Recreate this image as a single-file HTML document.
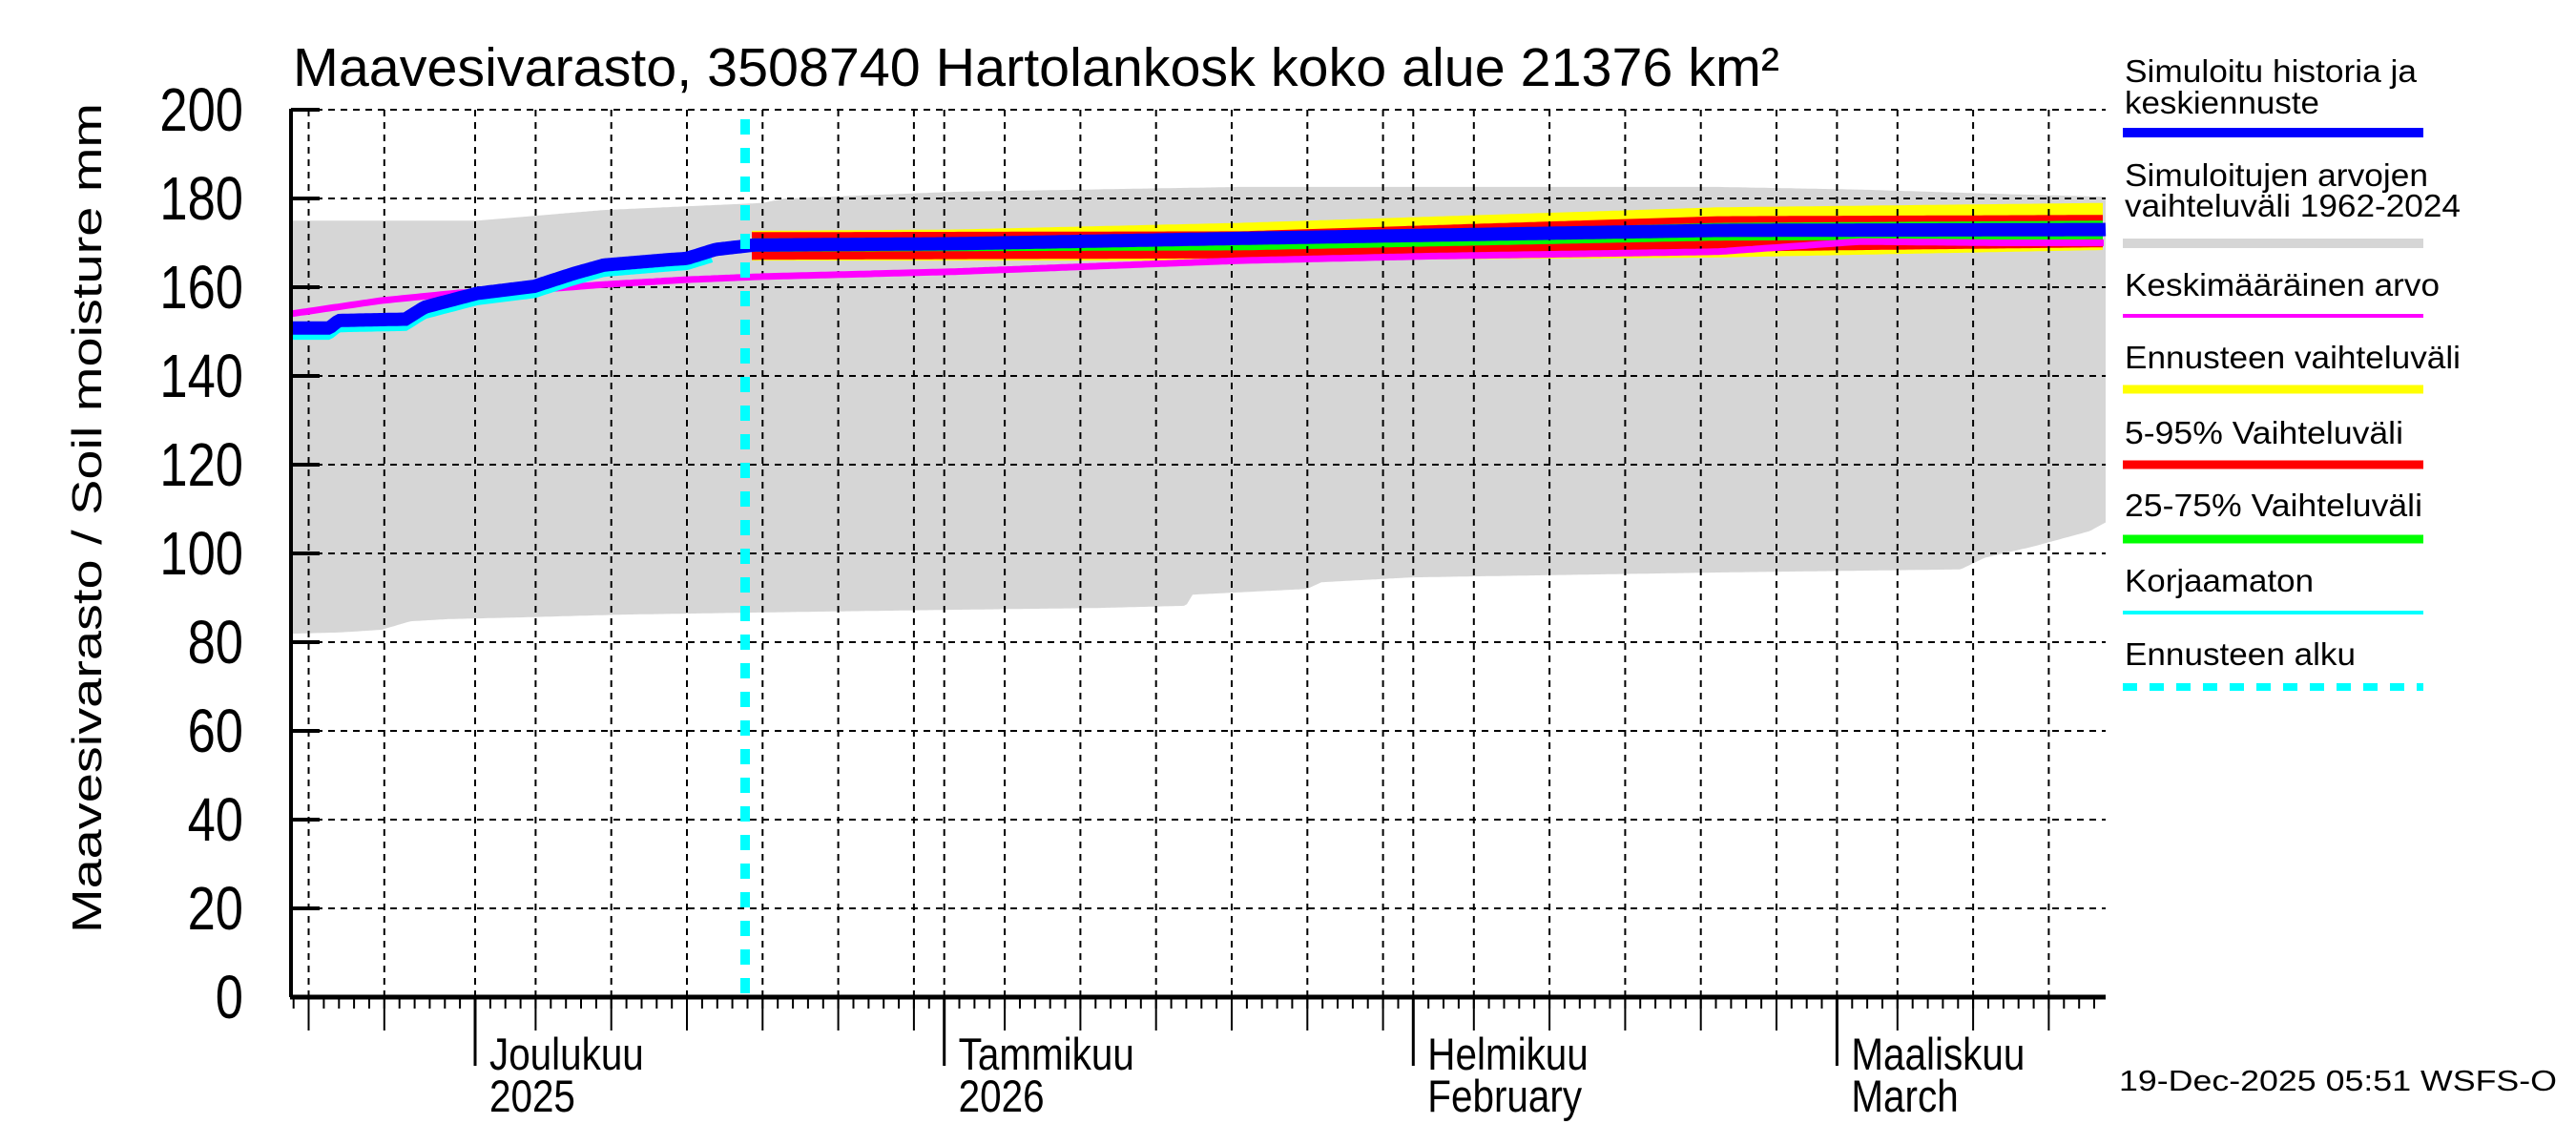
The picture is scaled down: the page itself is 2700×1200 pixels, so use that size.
<!DOCTYPE html>
<html><head><meta charset="utf-8"><style>
html,body{margin:0;padding:0;background:#fff;}
svg{display:block;font-family:"Liberation Sans",Arial,sans-serif;}
</style></head><body>
<svg id="s" xmlns="http://www.w3.org/2000/svg" width="2700" height="1200" viewBox="0 0 2700 1200"></svg>
<script>
const NS="http://www.w3.org/2000/svg";const S=document.getElementById('s');
function el(t,a,txt){const e=document.createElementNS(NS,t);for(const k in a)e.setAttribute(k,a[k]);if(txt!==undefined)e.textContent=txt;S.appendChild(e);return e;}
const L=305,R=2207,T=115,B=1045;
const X=t=>498+t*15.86; const Y=v=>B-v*4.65;
function interp(pts,x){if(x<=pts[0][0])return pts[0][1];for(let i=1;i<pts.length;i++){if(x<=pts[i][0]){const a=pts[i-1],b=pts[i];return a[1]+(b[1]-a[1])*(x-a[0])/(b[0]-a[0]);}}return pts[pts.length-1][1];}
function stepLine(pts,x0,x1,st){let d='';for(let x=x0;x<=x1;x+=st){const y=Y(interp(pts,x)).toFixed(1);d+=(d?'L':'M')+x+' '+y;}return d;}
function band(up,lo,x0,x1,st){let a=[],b=[];for(let x=x0;x<=x1;x+=st){a.push(x+' '+Y(interp(up,x)).toFixed(1));b.push(x+' '+Y(interp(lo,x)).toFixed(1));}return 'M'+a.join('L')+'L'+b.reverse().join('L')+'Z';}
const gUp=[[305,175],[500,175],[633,177.4],[800,179],[822,180],[1000,181.5],[1300,182.6],[1800,182.6],[1950,182],[2100,181],[2207,180.4]];
const gLo=[[305,81.9],[357,82.2],[400,82.8],[430,84.7],[470,85.2],[550,85.6],[650,86.2],[800,86.7],[1000,87.3],[1150,87.7],[1243,88.2],[1250,90.7],[1370,92],[1385,93.5],[1480,94.6],[1800,95.7],[2055,96.4],[2080,99],[2130,101.5],[2190,105],[2207,107]];
el('path',{d:band(gUp,gLo,305,2207,3),fill:'#d6d6d6'});
const F0=788;
const yU=[[F0,172.7],[1000,173],[1300,174.5],[1800,178],[2207,179]];
const yL=[[F0,166],[1300,166],[1800,166.7],[2207,168.4]];
const rU=[[F0,172.4],[1300,172.6],[1800,176],[2207,176.3]];
const rL=[[F0,166.2],[1300,166.5],[1800,168],[2207,169]];
const gnU=[[F0,171],[1300,171.5],[1800,174.5],[2207,175]];
const gnL=[[F0,168],[1300,168.3],[1800,170.5],[2207,170.8]];
el('path',{d:band(yU,yL,F0,2207,4),fill:'#ffff00'});
el('path',{d:band(rU,rL,F0,2207,4),fill:'#ff0000'});
el('path',{d:band(gnU,gnL,F0,2207,4),fill:'#00ff00'});
let g='';
for(let v=20;v<=200;v+=20){g+=`M${L} ${Y(v)}H${R}`;}
const months=[[-30,30],[0,31],[31,31],[62,28],[90,31]];
let vx=[];
for(const [s,n] of months){vx.push(s);for(let d=5;d<=30;d+=5){if(d<n)vx.push(s+d-1);}}
vx=vx.map(X).filter(x=>x>L+2&&x<R-2);
for(const x of vx)g+=`M${x.toFixed(1)} ${T}V${B}`;
el('path',{d:g,stroke:'#000','stroke-width':2,'stroke-dasharray':'7 6',fill:'none'});
const mag=[[305,154],[400,157],[480,158.7],[560,159.4],[633,160.6],[720,161.7],[800,162.4],[1000,163.5],[1300,166],[1500,167],[1800,168],[1950,170.3],[2100,170],[2207,170]];
el('path',{d:stepLine(mag,305,2207,4),stroke:'#ff00ff','stroke-width':7,fill:'none'});
const hist=[[305,150.8],[345,150.8],[355,152.5],[425,152.8],[445,155.5],[500,158.6],[560,160.2],[600,163],[633,165],[700,166.2],[720,166.5],[750,168.5],[790,169.5]];
const cy=hist.map(p=>[p[0],p[1]-1.8]);
el('path',{d:stepLine(cy,305,748,3),stroke:'#00ffff','stroke-width':8,fill:'none'});
const blue=hist.concat([[1000,169.8],[1300,171],[1800,172.8],[2207,173]]);
el('path',{d:stepLine(blue,305,2207,3),stroke:'#0000ff','stroke-width':14,fill:'none'});
el('path',{d:`M781 ${T+10}V${B}`,stroke:'#00ffff','stroke-width':10,'stroke-dasharray':'16 14'});
el('path',{d:`M${L} ${T-1}V${B}`,stroke:'#000','stroke-width':4});
el('path',{d:`M${L-1} ${B}H${R}`,stroke:'#000','stroke-width':5});
let tk='';for(let v=0;v<=200;v+=20)tk+=`M${L} ${Y(v)}h30`;
el('path',{d:tk,stroke:'#000','stroke-width':4});
let mt='';for(let t=-12;t<=107;t++){const x=X(t);if(x<L||x>R)continue;mt+=`M${x.toFixed(1)} ${B}v12`;}
el('path',{d:mt,stroke:'#000','stroke-width':2});
let mj='';for(const x of vx)mj+=`M${x.toFixed(1)} ${B}v35`;
el('path',{d:mj,stroke:'#000','stroke-width':2});
let mo='';for(const t of [0,31,62,90])mo+=`M${X(t).toFixed(1)} ${B}v72`;
el('path',{d:mo,stroke:'#000','stroke-width':3});
for(let v=0;v<=200;v+=20){el('text',{x:255,y:Y(v)+22,'font-size':64,'text-anchor':'end',transform:`translate(255 0) scale(0.82 1) translate(-255 0)`},String(v));}
const ml=[[X(0),'Joulukuu','2025'],[X(31),'Tammikuu','2026'],[X(62),'Helmikuu','February'],[X(90),'Maaliskuu','March']];
for(const [x,a,b] of ml){
 el('text',{x:x+15,y:1121,'font-size':47,transform:`translate(${x+15} 0) scale(0.86 1) translate(${-(x+15)} 0)`},a);
 el('text',{x:x+15,y:1165,'font-size':47,transform:`translate(${x+15} 0) scale(0.86 1) translate(${-(x+15)} 0)`},b);
}
el('text',{x:307,y:90,'font-size':57,textLength:1558,lengthAdjust:'spacingAndGlyphs'},'Maavesivarasto, 3508740 Hartolankosk koko alue 21376 km²');
el('text',{x:0,y:0,'font-size':44,'text-anchor':'middle',transform:'translate(106 543) rotate(-90)',textLength:870,lengthAdjust:'spacingAndGlyphs'},'Maavesivarasto / Soil moisture   mm');
const LX=2225,LW=315;
const leg=[
 [['Simuloitu historia ja','keskiennuste'],[86,119],139,'#0000ff',10,null],
 [['Simuloitujen arvojen','vaihteluväli 1962-2024'],[195,227],255,'#d6d6d6',10,null],
 [['Keskimääräinen arvo'],[310],331,'#ff00ff',4,null],
 [['Ennusteen vaihteluväli'],[386],408,'#ffff00',9,null],
 [['5-95% Vaihteluväli'],[465],487,'#ff0000',9,null],
 [['25-75% Vaihteluväli'],[541],565,'#00ff00',9,null],
 [['Korjaamaton'],[620],642,'#00ffff',4,null],
 [['Ennusteen alku'],[697],720,'#00ffff',8,'15 13']];
const widths={'Simuloitu historia ja':306,'keskiennuste':204,'Simuloitujen arvojen':318,'vaihteluväli 1962-2024':352,'Keskimääräinen arvo':330,'Ennusteen vaihteluväli':352,'5-95% Vaihteluväli':292,'25-75% Vaihteluväli':312,'Korjaamaton':198,'Ennusteen alku':242};
for(const [ls,ys,by,c,w,da] of leg){
 ls.forEach((s,i)=>el('text',{x:LX+2,y:ys[i],'font-size':33,textLength:widths[s],lengthAdjust:'spacingAndGlyphs'},s));
 const a={d:`M${LX} ${by}h${LW}`,stroke:c,'stroke-width':w};if(da)a['stroke-dasharray']=da;el('path',a);
}
el('text',{x:2221,y:1143,'font-size':31,textLength:459,lengthAdjust:'spacingAndGlyphs'},'19-Dec-2025 05:51 WSFS-O');
</script>
</body></html>
